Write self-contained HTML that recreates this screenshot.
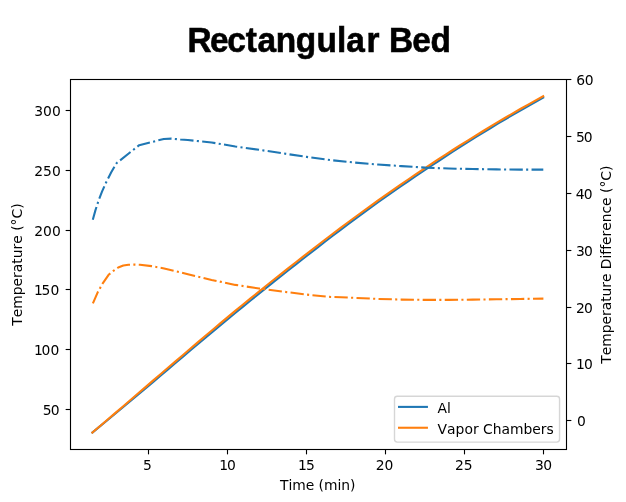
<!DOCTYPE html>
<html lang="en"><head><meta charset="utf-8"><title>Rectangular Bed</title>
<style>html,body{margin:0;padding:0;background:#fff}svg{display:block;will-change:transform}text{font-family:'DejaVu Sans', 'Liberation Sans', sans-serif;font-size:13.89px;fill:#000;font-kerning:none}</style></head><body>
<svg width="626" height="502" viewBox="0 0 626 502">
<rect width="626" height="502" fill="#fff"/>
<text id="title" transform="translate(187.3,51.7) scale(0.955,1)" dx="0.31 -1.88 -1.36 0.00 0.52 -0.21 -0.42 0.21 0.00 0.00 1.78 0.00 0.31 -1.05 -0.21" style="font-family:'Liberation Sans', 'DejaVu Sans', sans-serif;font-weight:bold;font-size:35px" stroke="#000" stroke-width="0.6">Rectangular Bed</text>
<clipPath id="c"><rect x="70.5" y="79.5" width="496.0" height="370.0"/></clipPath>
<g clip-path="url(#c)" fill="none" stroke-linejoin="round">
<path d="M92.34,432.55 L92.94,432.08 L100.44,425.89 L107.95,419.68 L115.45,413.45 L122.96,407.18 L130.46,400.90 L137.97,394.62 L145.47,388.36 L152.97,382.10 L160.48,375.76 L167.98,369.38 L175.49,363.01 L182.99,356.66 L190.50,350.32 L198.00,344.00 L205.50,337.70 L213.01,331.42 L220.51,325.17 L228.02,318.94 L235.52,312.76 L243.03,306.61 L250.53,300.50 L258.04,294.42 L265.54,288.38 L273.04,282.38 L280.55,276.42 L288.05,270.50 L295.56,264.63 L303.06,258.77 L310.57,252.90 L318.07,247.06 L325.57,241.26 L333.08,235.52 L340.58,229.83 L348.09,224.19 L355.59,218.61 L363.10,213.08 L370.60,207.63 L378.10,202.25 L385.61,196.93 L393.11,191.66 L400.62,186.46 L408.12,181.31 L415.63,176.22 L423.13,171.19 L430.64,166.22 L438.14,161.27 L445.64,156.34 L453.15,151.47 L460.65,146.66 L468.16,141.91 L475.66,137.22 L483.17,132.58 L490.67,128.00 L498.17,123.48 L505.68,119.02 L513.18,114.61 L520.69,110.26 L528.19,106.01 L535.70,101.82 L543.20,97.68" stroke="#1f77b4" stroke-width="2.083" stroke-linecap="square"/>
<path d="M92.34,432.55 L92.94,432.08 L100.44,425.70 L107.95,419.29 L115.45,412.87 L122.96,406.44 L130.46,400.00 L137.97,393.55 L145.47,387.10 L152.97,380.66 L160.48,374.21 L167.98,367.78 L175.49,361.35 L182.99,354.93 L190.50,348.54 L198.00,342.16 L205.50,335.79 L213.01,329.46 L220.51,323.14 L228.02,316.86 L235.52,310.66 L243.03,304.51 L250.53,298.40 L258.04,292.32 L265.54,286.28 L273.04,280.28 L280.55,274.32 L288.05,268.40 L295.56,262.53 L303.06,256.67 L310.57,250.81 L318.07,245.00 L325.57,239.24 L333.08,233.53 L340.58,227.87 L348.09,222.27 L355.59,216.72 L363.10,211.22 L370.60,205.79 L378.10,200.41 L385.61,195.10 L393.11,189.83 L400.62,184.63 L408.12,179.49 L415.63,174.41 L423.13,169.38 L430.64,164.41 L438.14,159.49 L445.64,154.59 L453.15,149.75 L460.65,144.98 L468.16,140.26 L475.66,135.60 L483.17,130.99 L490.67,126.43 L498.17,121.93 L505.68,117.48 L513.18,113.09 L520.69,108.76 L528.19,104.55 L535.70,100.38 L543.20,96.27" stroke="#ff7f0e" stroke-width="2.083" stroke-linecap="square"/>
<path d="M92.80,219.80 L95.40,210.35 L98.45,200.90 L102.10,191.45 L106.30,182.00 L111.10,172.55 L116.50,163.20 L139.25,145.15 L163.80,138.95 L171.50,138.60 L180.40,139.50 L187.87,140.00 L211.60,142.50 L235.33,146.50 L259.07,149.80 L282.80,153.35 L306.53,156.90 L330.26,160.05 L353.99,162.50 L377.72,164.50 L401.46,166.10 L425.19,167.60 L448.92,168.55 L472.65,169.00 L496.38,169.40 L520.11,169.60 L543.30,169.60" stroke="#1f77b4" stroke-width="2.083" stroke-dasharray="13.33,3.33,2.08,3.33"/>
<path d="M92.90,303.30 L97.80,292.10 L102.90,283.10 L108.60,274.80 L113.75,270.60 L118.20,267.50 L123.30,265.50 L128.50,264.70 L134.20,264.60 L140.00,264.80 L151.50,266.10 L164.20,268.40 L187.87,274.20 L211.60,279.90 L235.33,284.90 L259.07,288.50 L282.80,291.60 L306.53,294.60 L330.26,296.90 L353.99,297.80 L377.72,298.90 L401.46,299.60 L425.19,299.90 L448.92,299.90 L472.65,299.60 L496.38,299.30 L520.11,298.95 L543.40,298.60" stroke="#ff7f0e" stroke-width="2.083" stroke-dasharray="13.33,3.33,2.08,3.33" stroke-dashoffset="0.5"/>
</g>
<g stroke="#000" stroke-width="1.111">
<line x1="148.5" x2="148.5" y1="449.5" y2="454.36"/>
<line x1="227.5" x2="227.5" y1="449.5" y2="454.36"/>
<line x1="306.5" x2="306.5" y1="449.5" y2="454.36"/>
<line x1="385.5" x2="385.5" y1="449.5" y2="454.36"/>
<line x1="464.5" x2="464.5" y1="449.5" y2="454.36"/>
<line x1="543.5" x2="543.5" y1="449.5" y2="454.36"/>
<line x1="70.5" x2="65.64" y1="409.5" y2="409.5"/>
<line x1="70.5" x2="65.64" y1="349.5" y2="349.5"/>
<line x1="70.5" x2="65.64" y1="289.5" y2="289.5"/>
<line x1="70.5" x2="65.64" y1="230.5" y2="230.5"/>
<line x1="70.5" x2="65.64" y1="170.5" y2="170.5"/>
<line x1="70.5" x2="65.64" y1="110.5" y2="110.5"/>
<line x1="566.5" x2="571.36" y1="420.5" y2="420.5"/>
<line x1="566.5" x2="571.36" y1="363.5" y2="363.5"/>
<line x1="566.5" x2="571.36" y1="307.5" y2="307.5"/>
<line x1="566.5" x2="571.36" y1="250.5" y2="250.5"/>
<line x1="566.5" x2="571.36" y1="193.5" y2="193.5"/>
<line x1="566.5" x2="571.36" y1="136.5" y2="136.5"/>
<line x1="566.5" x2="571.36" y1="79.5" y2="79.5"/>
</g>
<rect x="70.5" y="79.5" width="496.0" height="370.0" fill="none" stroke="#000" stroke-width="1.111" stroke-linejoin="miter"/>
<text x="147.42" y="470.0" text-anchor="middle">5</text>
<text x="227.53" y="470.0" text-anchor="middle" dx="0 -1.3">10</text>
<text x="306.33" y="470.0" text-anchor="middle" dx="0 -0.9">15</text>
<text x="384.64" y="470.0" text-anchor="middle">20</text>
<text x="463.75" y="470.0" text-anchor="middle">25</text>
<text x="543.55" y="470.0" text-anchor="middle" dx="0 -0.8">30</text>
<text x="59.68" y="414.95" text-anchor="end" dx="0 -0.8">50</text>
<text x="59.28" y="354.95" text-anchor="end" dx="0 -1.3">100</text>
<text x="59.28" y="294.95" text-anchor="end" dx="0 -1.3">150</text>
<text x="60.78" y="235.95" text-anchor="end">200</text>
<text x="60.78" y="175.95" text-anchor="end">250</text>
<text x="60.78" y="115.95" text-anchor="end">300</text>
<text x="577.02" y="425.95">0</text>
<text x="575.92" y="368.95" dx="0 -0.7">10</text>
<text x="575.92" y="312.95" dx="0 -0.85">20</text>
<text x="575.92" y="255.95" dx="0 -0.85">30</text>
<text x="575.82" y="198.95" dx="0 -0.8">40</text>
<text x="576.02" y="141.95" dx="0 -1.0">50</text>
<text x="576.22" y="84.95" dx="0 -0.2">60</text>
<text x="317.70" y="489.6" text-anchor="middle" style="letter-spacing:-0.05px">Time (min)</text>
<text transform="translate(22.4,264.60) rotate(-90)" text-anchor="middle">Temperature (°C)</text>
<text transform="translate(611.3,264.70) rotate(-90)" text-anchor="middle" style="letter-spacing:-0.03px">Temperature Difference (°C)</text>
<rect x="394.5" y="396.3" width="165.05" height="45.80" rx="2.78" ry="2.78" fill="#fff" fill-opacity="0.8" stroke="#ccc" stroke-opacity="0.8" stroke-width="1.389"/>
<line x1="399.05" x2="426.9" y1="406.9" y2="406.9" stroke="#1f77b4" stroke-width="2.083" stroke-linecap="square"/>
<line x1="399.05" x2="426.9" y1="427.75" y2="427.75" stroke="#ff7f0e" stroke-width="2.083" stroke-linecap="square"/>
<text x="437.6" y="412.8">Al</text>
<text x="437.6" y="433.6">Vapor Chambers</text>
</svg></body></html>
